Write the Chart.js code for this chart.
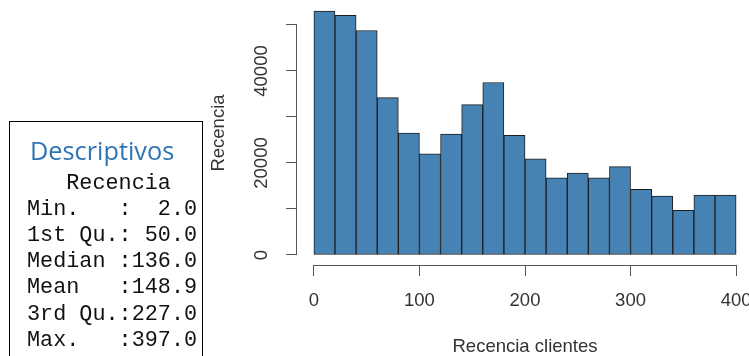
<!DOCTYPE html>
<html>
<head>
<meta charset="utf-8">
<script src="https://cdn.jsdelivr.net/npm/chart.js@4/dist/chart.umd.min.js"></script>
<style>
  html, body { margin: 0; padding: 0; background: #fff; overflow: hidden; }
  body { width: 749px; height: 356px; position: relative; }
  #wrap { position: absolute; left: 0; top: 0; width: 760px; height: 356px; }
  #box {
    position: absolute; left: 9px; top: 121px; width: 194px; height: 260px;
    border: 1.5px solid #000; box-sizing: border-box;
  }
  #boxTitle {
    position: absolute; left: 30px; top: 135px; line-height: 30px;
    font-family: 'Open Sans', sans-serif; font-size: 25.3px; color: #2E75B6;
    white-space: pre;
  }
  #stats {
    position: absolute; left: 27px; top: 170.5px; margin: 0;
    font-family: 'Liberation Mono', monospace; font-size: 21.8px; line-height: 26.2px;
    color: #111; white-space: pre;
  }
</style>
</head>
<body>
<div id="wrap"><canvas id="histChart"></canvas></div>
<div id="box"></div>
<div id="boxTitle"></div>
<pre id="stats"></pre>
<script>
// Histogram data
const breaks = [0, 20, 40, 60, 80, 100, 120, 140, 160, 180, 200, 220, 240, 260, 280, 300, 320, 340, 360, 380, 400];
const counts = [53000, 52100, 48800, 34200, 26500, 22000, 26300, 32700, 37500, 26000,
                20900, 16800, 17800, 16800, 19200, 14300, 12800, 9700, 13000, 13000];
const xTicks = [0, 100, 200, 300, 400];
const yTicks = [0, 10000, 20000, 30000, 40000, 50000];
const yTickLabels = ['0', '', '20000', '', '40000', ''];

// Summary box
const summaryTitle = 'Descriptivos';
const summaryHeader = '   Recencia';
const summaryNames = ['Min.   ', '1st Qu.', 'Median ', 'Mean   ', '3rd Qu.', 'Max.   '];
const summaryValues = ['  2.0', ' 50.0', '136.0', '148.9', '227.0', '397.0'];

document.getElementById('boxTitle').textContent = summaryTitle;
document.getElementById('stats').textContent =
  [summaryHeader].concat(summaryNames.map((n, i) => n + ':' + summaryValues[i])).join('\n');

const axisFont = { family: "'Liberation Sans', Arial, sans-serif", size: 18.5 };
const textColor = '#333';
const axisColor = '#555';

// R style axis lines: only span the tick range
const axisLines = {
  id: 'axisLines',
  afterDraw(chart) {
    const { ctx, chartArea, scales: { x, y } } = chart;
    ctx.save();
    ctx.strokeStyle = axisColor;
    ctx.lineWidth = 1;
    ctx.beginPath();
    const yb = Math.round(chartArea.bottom) + 0.5;
    ctx.moveTo(x.getPixelForValue(xTicks[0]), yb);
    ctx.lineTo(x.getPixelForValue(xTicks[xTicks.length - 1]), yb);
    const xl = Math.round(chartArea.left) - 0.5;
    ctx.moveTo(xl, y.getPixelForValue(yTicks[0]));
    ctx.lineTo(xl, y.getPixelForValue(yTicks[yTicks.length - 1]));
    ctx.stroke();
    ctx.restore();
  }
};

const ctx = document.getElementById('histChart').getContext('2d');
window.histChart = new Chart(ctx, {
  type: 'bar',
  data: {
    datasets: [{
      label: 'Recencia',
      data: counts.map((c, i) => ({ x: (breaks[i] + breaks[i + 1]) / 2, y: c })),
      backgroundColor: '#4682B4',
      borderColor: '#1e1e1e',
      borderWidth: 1,
      borderSkipped: false,
      barPercentage: 1,
      categoryPercentage: 1
    }]
  },
  plugins: [axisLines],
  options: {
    responsive: true,
    maintainAspectRatio: false,
    animation: false,
    devicePixelRatio: 1,
    layout: { padding: { left: 205, top: 1, right: 7, bottom: 0 } },
    plugins: {
      legend: { display: false },
      tooltip: { enabled: false }
    },
    scales: {
      x: {
        type: 'linear',
        offset: false,
        min: -16,
        max: 416,
        afterBuildTicks: s => { s.ticks = xTicks.map(v => ({ value: v })); },
        afterFit: s => { s.height = 91; s.paddingLeft = 0; s.paddingRight = 0; },
        border: { display: false },
        grid: { drawOnChartArea: false, drawTicks: true, offset: false, tickLength: 11, color: axisColor },
        ticks: { font: axisFont, color: textColor, padding: 14, maxRotation: 0, autoSkip: false,
                 callback: v => String(v) },
        title: { display: true, text: 'Recencia clientes', font: axisFont, color: textColor,
                 padding: { top: 0, bottom: -2 } }
      },
      y: {
        type: 'linear',
        min: -2174,
        max: 55217,
        afterBuildTicks: s => { s.ticks = yTicks.map(v => ({ value: v })); },
        afterFit: s => { s.width = 92; s.paddingTop = 0; s.paddingBottom = 0; },
        border: { display: false },
        grid: { drawOnChartArea: false, drawTicks: true, tickLength: 11, color: axisColor },
        ticks: { font: axisFont, color: textColor, padding: -2, minRotation: 90, maxRotation: 90,
                 crossAlign: 'center', autoSkip: false,
                 callback: (v, i) => yTickLabels[yTicks.indexOf(v)] },
        title: { display: true, text: 'Recencia', font: axisFont, color: textColor,
                 padding: { top: 2.5, bottom: 0 } }
      }
    }
  }
});
</script>
</body>
</html>
